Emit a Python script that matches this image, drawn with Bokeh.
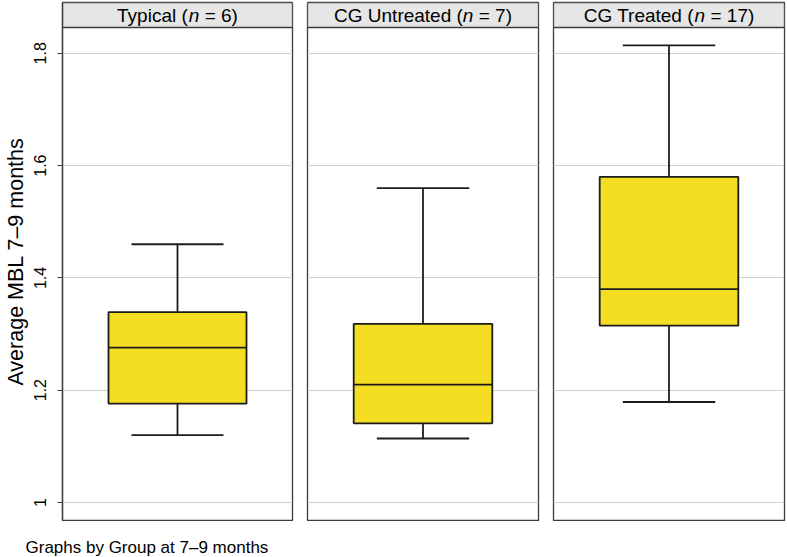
from bokeh.plotting import figure
from bokeh.models import Range1d, FixedTicker
from bokeh.layouts import row, column
from bokeh.core.properties import value
from bokeh.embed import file_html
from bokeh.resources import INLINE

# ---- data ----
groups = ["Typical", "CG Untreated", "CG Treated"]
group_n = [6, 7, 17]
whisker_low = [1.12, 1.114, 1.179]
q1 = [1.176, 1.141, 1.315]
median = [1.276, 1.21, 1.38]
q3 = [1.339, 1.318, 1.58]
whisker_high = [1.46, 1.56, 1.814]
y_ticks = [1.0, 1.2, 1.4, 1.6, 1.8]
y_tick_labels = ["1", "1.2", "1.4", "1.6", "1.8"]
y_title = "Average MBL 7\u20139 months"
footer = "Graphs by Group at 7\u20139 months"

# ---- style / layout ----
FONT = "Liberation Sans"
Y_LO, Y_HI = 0.968, 1.846
TOP_B = 2
STRIP_PX = 25
PLOT_PX = 493
BOTTOM_B = 1
HEIGHT = TOP_B + STRIP_PX + PLOT_PX + BOTTOM_B
PX_PER_UNIT = PLOT_PX / (Y_HI - Y_LO)
STRIP_TOP = Y_HI + STRIP_PX / PX_PER_UNIT
FRAME_W = 231
LEFT_B = 61
BOX_FILL = "#f5de22"
DARK = "#1c1c1c"
FRAME_COL = "#3c3c3c"
GRID_COL = "#c8d2d2"
STRIP_FILL = "#e6e6e6"

# Arial / Liberation Sans advance widths (per 1000 em)
W = {' ': 278, '(': 333, ')': 333, '=': 584, 'C': 722, 'G': 778, 'T': 611,
     'U': 722, 'y': 500, 'p': 556, 'i': 222, 'c': 500, 'a': 556, 'l': 222,
     'n': 556, 't': 278, 'r': 333, 'e': 556, 'd': 556}
for d in "0123456789":
    W[d] = 556


def text_w(s, size):
    return sum(W.get(ch, 556) for ch in s) * size / 1000.0


def make_panel(i):
    first = i == 0
    lb = LEFT_B if first else 2
    p = figure(
        x_range=Range1d(0, 1), y_range=Range1d(Y_LO, STRIP_TOP),
        width=lb + FRAME_W + 2, height=HEIGHT,
        x_axis_location=None, y_axis_location=("left" if first else None),
        min_border_left=lb, min_border_right=2,
        min_border_top=TOP_B, min_border_bottom=BOTTOM_B,
        toolbar_location=None, output_backend="svg",
    )
    p.background_fill_color = "white"
    p.border_fill_color = "white"
    p.outline_line_color = FRAME_COL
    p.outline_line_width = 1.3
    p.xgrid.visible = False
    p.ygrid.ticker = FixedTicker(ticks=y_ticks)
    p.ygrid.grid_line_color = GRID_COL
    p.ygrid.grid_line_width = 1.2

    if first:
        ax = p.yaxis[0]
        ax.ticker = FixedTicker(ticks=y_ticks)
        ax.major_label_overrides = {t: l for t, l in zip(y_ticks, y_tick_labels)}
        ax.minor_tick_line_color = None
        ax.major_tick_in = 0
        ax.major_tick_out = 5
        ax.major_tick_line_color = FRAME_COL
        ax.major_tick_line_width = 1.2
        ax.axis_line_color = FRAME_COL
        ax.axis_line_width = 1.3
        ax.major_label_orientation = "vertical"
        ax.major_label_text_font = FONT
        ax.major_label_text_font_size = "16px"
        ax.major_label_text_color = "black"
        ax.major_label_standoff = 11
        ax.axis_label = y_title
        ax.axis_label_text_font = FONT
        ax.axis_label_text_font_size = "21.5px"
        ax.axis_label_text_font_style = "normal"
        ax.axis_label_text_color = "black"
        ax.axis_label_standoff = 4

    # strip header
    p.quad(left=[0], right=[1], bottom=[Y_HI], top=[STRIP_TOP],
           fill_color=STRIP_FILL, line_color=FRAME_COL, line_width=1.3)
    fs = 19
    segs = [(f"{groups[i]} (", "normal"), ("n", "italic"),
            (" = ", None), (f"{group_n[i]})", "normal")]
    total = sum(text_w(s, fs) for s, _ in segs)
    ymid = (Y_HI + STRIP_TOP) / 2
    x0 = -total / 2
    for seg, style in segs:
        if style is None:
            x0 += text_w(" ", fs)
            p.text(x=[0.5], y=[ymid], text=["="], x_offset=x0,
                   text_align="left", text_baseline="middle",
                   text_font=value(FONT), text_font_size=f"{fs}px",
                   text_font_style="normal", text_color="black")
            x0 += text_w("= ", fs)
            continue
        p.text(x=[0.5], y=[ymid], text=[seg], x_offset=x0,
               text_align="left", text_baseline="middle",
               text_font=value(FONT), text_font_size=f"{fs}px",
               text_font_style=style, text_color="black")
        x0 += text_w(seg, fs)

    # box plot
    p.segment(x0=[0.5], y0=[q3[i]], x1=[0.5], y1=[whisker_high[i]],
              line_color=DARK, line_width=1.8)
    p.segment(x0=[0.5], y0=[whisker_low[i]], x1=[0.5], y1=[q1[i]],
              line_color=DARK, line_width=1.8)
    p.segment(x0=[0.3], y0=[whisker_high[i]], x1=[0.7], y1=[whisker_high[i]],
              line_color=DARK, line_width=1.8)
    p.segment(x0=[0.3], y0=[whisker_low[i]], x1=[0.7], y1=[whisker_low[i]],
              line_color=DARK, line_width=1.8)
    p.quad(left=[0.2], right=[0.8], bottom=[q1[i]], top=[q3[i]],
           fill_color=BOX_FILL, line_color=DARK, line_width=1.8)
    p.segment(x0=[0.2], y0=[median[i]], x1=[0.8], y1=[median[i]],
              line_color=DARK, line_width=1.8)
    return p


panels = [make_panel(i) for i in range(3)]

# footer caption in its own small canvas
foot = figure(x_range=Range1d(0, 1), y_range=Range1d(0, 1),
              width=300, height=19, x_axis_location=None, y_axis_location=None,
              min_border=0, toolbar_location=None, output_backend="svg")
foot.outline_line_color = None
foot.xgrid.visible = False
foot.ygrid.visible = False
foot.background_fill_color = "white"
foot.border_fill_color = "white"
foot.text(x=[0], y=[0.5], text=[footer], x_offset=25, text_align="left",
          text_baseline="middle", text_font=value(FONT), text_font_size="17px",
          text_color="black")

layout = column(row(*panels, spacing=11), foot, spacing=16)

open("out.html", "w").write(file_html(layout, INLINE))
